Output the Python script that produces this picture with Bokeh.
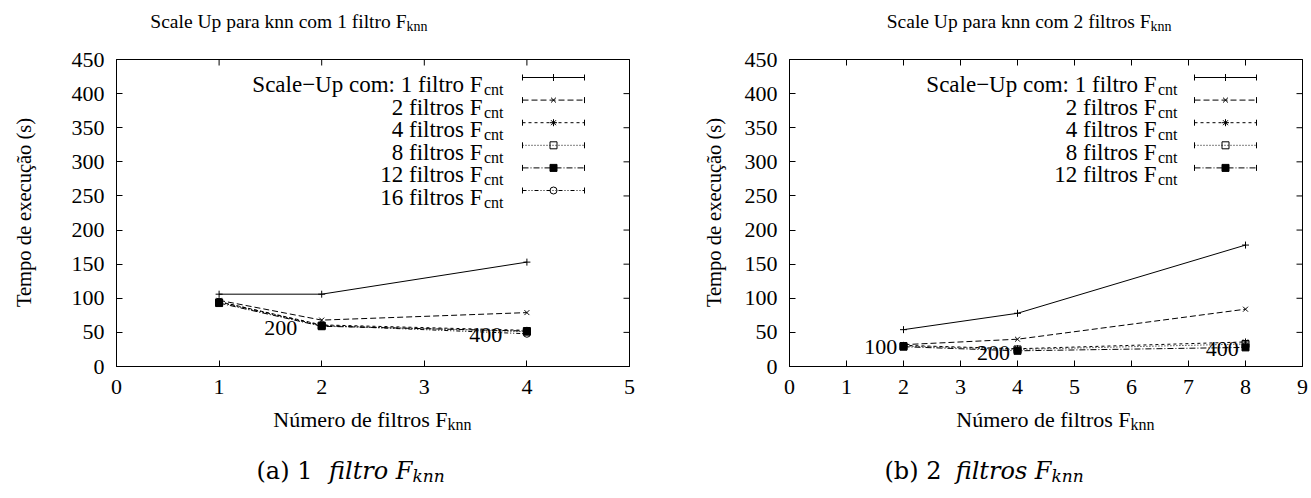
from math import pi
from bokeh.plotting import figure
from bokeh.models import Range1d, Label, FixedTicker, LinearAxis
from bokeh.layouts import row
from bokeh.embed import file_html
from bokeh.resources import INLINE

# ---------------- data ----------------
left_x = [1, 2, 4]
left_names = ["Scale−Up com: 1 filtro F", "2 filtros F", "4 filtros F",
              "8 filtros F", "12 filtros F", "16 filtros F"]
left_s1 = [106, 106, 153]
left_s2 = [97, 68, 79]
left_s3 = [95, 61, 53]
left_s4 = [94, 60, 51]
left_s5 = [93, 59, 52]
left_s6 = [95, 60, 48]
left_annot_text = ["200", "400"]
left_annot_x = [1.6, 3.6]
left_annot_y = [56, 46]
left_xticks = [0, 1, 2, 3, 4, 5]

right_x = [2, 4, 8]
right_names = ["Scale−Up com: 1 filtro F", "2 filtros F", "4 filtros F",
               "8 filtros F", "12 filtros F"]
right_s1 = [54, 78, 178]
right_s2 = [32, 40, 84]
right_s3 = [31, 26, 36]
right_s4 = [30, 25, 33]
right_s5 = [29, 23, 28]
right_annot_text = ["100", "200", "400"]
right_annot_x = [1.6, 3.58, 7.59]
right_annot_y = [29, 20, 26]
right_xticks = [0, 1, 2, 3, 4, 5, 6, 7, 8, 9]

yticks = [0, 50, 100, 150, 200, 250, 300, 350, 400, 450]
YMAX = 450

titles = ["Scale Up para knn com 1 filtro F", "Scale Up para knn com 2 filtros F"]
xlabel = "Número de filtros F"
ylabel = "Tempo de execução (s)"
captions_up = ["(a) 1", "(b) 2"]
captions_it = ["filtro F", "filtros F"]

# ---------------- styles ----------------
FONT = "Liberation Serif"
CAPFONT = "DejaVu Serif"
FS = "22px"
LEGFS = "23px"
SUBFS = "16px"
STYLES = [
    dict(dash="solid", marker="cross", fill="black"),
    dict(dash="6 3", marker="x", fill="black"),
    dict(dash="3 3", marker="asterisk", fill="black"),
    dict(dash="1 2", marker="square", fill=None),
    dict(dash="6 2 1 2", marker="square", fill="black"),
    dict(dash="4 2 1 2 1 2", marker="circle", fill=None),
]

H = 498
FRAME_TOP = 59.0     # page y of value YMAX
FRAME_BOT = 366.0    # page y of value 0
FRAME_W = 513.0
YPX = (FRAME_BOT - FRAME_TOP) / YMAX


def make_panel(k, xs, series, names, xmax, xticks, annot, fig_left, width, frame_left,
               title_fend, xlab_fend, cap_start, cap_fend, ylab_x, leg_text_end, leg_a, leg_b):
    xpx = FRAME_W / float(xmax)

    def dx(px):
        return (px - frame_left) / xpx

    def dy(py):
        return (FRAME_BOT - py) / YPX

    p = figure(width=width, height=H, output_backend="svg", toolbar_location=None,
               x_range=Range1d(dx(fig_left), dx(fig_left + width)),
               y_range=Range1d(dy(H), dy(0)),
               x_axis_type=None, y_axis_type=None, min_border=0)
    p.background_fill_color = "white"
    p.border_fill_color = "white"
    p.outline_line_color = None

    def add_text(px, py, text, **kw):
        opts = dict(text_font=FONT, text_font_size=FS, text_color="black",
                    text_baseline="alphabetic")
        opts.update(kw)
        p.add_layout(Label(x=dx(px), y=dy(py), text=text, **opts))

    # axes, fixed at the data origin
    xax = LinearAxis(ticker=FixedTicker(ticks=xticks), fixed_location=0, bounds=(0, xmax))
    yax = LinearAxis(ticker=FixedTicker(ticks=yticks), fixed_location=0, bounds=(0, YMAX))
    for ax in (xax, yax):
        ax.major_tick_in = 6
        ax.major_tick_out = 0
        ax.minor_tick_line_color = None
        ax.axis_line_color = "black"
        ax.major_tick_line_color = "black"
        ax.major_label_text_font = FONT
        ax.major_label_text_font_size = FS
        ax.major_label_text_color = "black"
    yax.major_label_standoff = 12
    xax.major_label_standoff = 13
    p.add_layout(xax, "below")
    p.add_layout(yax, "left")

    # frame box and mirrored ticks on top and right edges
    p.quad(left=0, right=xmax, bottom=0, top=YMAX, fill_color=None, line_color="black",
           line_width=1)
    tx = 6 / xpx
    ty = 6 / YPX
    p.segment(x0=xticks, y0=[YMAX] * len(xticks), x1=xticks, y1=[YMAX - ty] * len(xticks),
              line_color="black", line_width=1)
    p.segment(x0=[xmax] * len(yticks), y0=yticks, x1=[xmax - tx] * len(yticks), y1=yticks,
              line_color="black", line_width=1)

    # data series
    for ys, st in zip(series, STYLES):
        p.line(xs, ys, line_color="black", line_width=1, line_dash=st["dash"])
        p.scatter(xs, ys, marker=st["marker"], size=7, line_color="black",
                  fill_color=st["fill"], line_width=1)

    # annotations inside plot
    for t, ax_, ay_ in zip(*annot):
        p.add_layout(Label(x=ax_, y=ay_, text=t, text_font=FONT, text_font_size=FS,
                           text_align="center", text_baseline="middle", text_color="black"))

    # legend (text left, sample right, gnuplot style)
    row0 = 77.0
    step = 22.6
    for i, (name, st) in enumerate(zip(names, STYLES)):
        py = row0 + i * step
        yv = dy(py)
        add_text(leg_text_end, py + 12, "cnt", text_font_size=SUBFS, text_align="right")
        add_text(leg_text_end - 21, py + 7, name, text_font_size=LEGFS, text_align="right")
        xa, xb = dx(leg_a), dx(leg_b)
        p.line([xa, xb], [yv, yv], line_color="black", line_width=1, line_dash=st["dash"])
        p.scatter([xa, xb], [yv, yv], marker="dash", angle=pi / 2, size=6, line_color="black")
        p.scatter([(xa + xb) / 2], [yv], marker=st["marker"], size=7, line_color="black",
                  fill_color=st["fill"], line_width=1)

    # title
    add_text(title_fend, 21, titles[k], text_align="right", text_font_size="19.5px")
    add_text(title_fend, 26, "knn", text_align="left", text_font_size="14px")
    # x label
    add_text(xlab_fend, 419, xlabel, text_align="right")
    add_text(xlab_fend, 424, "knn", text_align="left", text_font_size=SUBFS)
    # y label
    add_text(ylab_x, 212, ylabel, text_align="center", text_baseline="middle", angle=pi / 2,
             text_font_size="20.5px")
    # caption (LaTeX-like: upright label, italic words)
    add_text(cap_start, 470, captions_up[k], text_align="left", text_font=CAPFONT,
             text_font_size="24px")
    add_text(cap_fend, 470, captions_it[k], text_align="right", text_font=CAPFONT,
             text_font_size="24px", text_font_style="italic")
    add_text(cap_fend, 475, "knn", text_align="left", text_font=CAPFONT,
             text_font_size="17px", text_font_style="italic")
    return p


p1 = make_panel(0, left_x, [left_s1, left_s2, left_s3, left_s4, left_s5, left_s6], left_names,
                5, left_xticks, (left_annot_text, left_annot_x, left_annot_y),
                fig_left=0, width=655, frame_left=116,
                title_fend=406, xlab_fend=447, cap_start=256, cap_fend=412, ylab_x=23,
                leg_text_end=503, leg_a=522, leg_b=584)
p2 = make_panel(1, right_x, [right_s1, right_s2, right_s3, right_s4, right_s5], right_names,
                9, right_xticks, (right_annot_text, right_annot_x, right_annot_y),
                fig_left=655, width=656, frame_left=789,
                title_fend=1150, xlab_fend=1130, cap_start=884, cap_fend=1051, ylab_x=713,
                leg_text_end=1177, leg_a=1194, leg_b=1256)

layout = row(p1, p2)
open("out.html", "w").write(file_html(layout, INLINE))
